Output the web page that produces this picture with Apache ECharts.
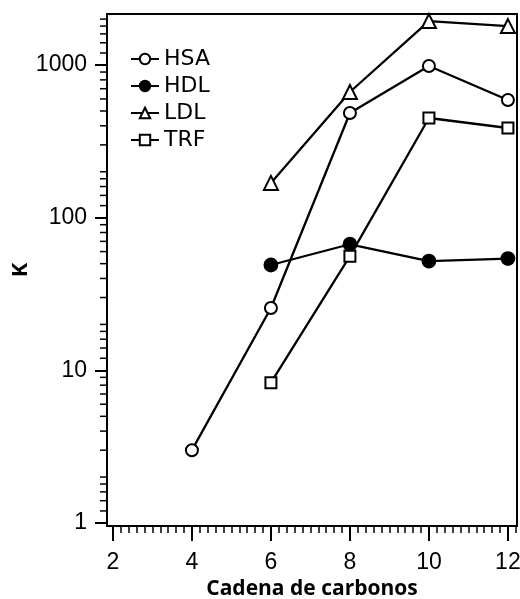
<!DOCTYPE html>
<html>
<head>
<meta charset="utf-8">
<script src="https://cdn.jsdelivr.net/npm/echarts@6/dist/echarts.min.js"></script>
<style>
html, body { margin: 0; padding: 0; background: #fff; }
#chart { width: 520px; height: 599px; }
</style>
</head>
<body>
<div id="chart"></div>
<script>
// datos
const carbonos = [4, 6, 8, 10, 12]
const hsa = [3.0, 25.6, 485, 985, 590]
const hdl = [null, 49, 67, 52, 54]
const ldl = [null, 169, 666, 1941, 1800]
const trf = [null, 8.3, 56, 450, 387]

const xTicks = [2, 4, 6, 8, 10, 12]
const yTicks = [1, 10, 100, 1000]
const decadas = [1, 10, 100, 1000]
const menores = [1.2, 1.4, 1.6, 1.8, 2, 3, 4, 5, 6, 7, 8, 9]

const xMin = 1.85
const xMax = 12.23
const yMin = 0.956
const yMax = 2160

// marcas menores del eje log
const minorY = []
decadas.forEach(d => menores.forEach(m => {
  const v = d * m
  if (v < yMax) minorY.push([xMin, v])
}))

const pairs = arr => carbonos.map((c, i) => [c, arr[i]]).filter(p => p[1] != null)

const chart = echarts.init(document.getElementById('chart'))

const serie = (name, data, symbol, size) => ({
  name: name,
  type: 'line',
  data: pairs(data),
  symbol: symbol,
  symbolSize: size,
  showAllSymbol: true,
  color: '#000',
  itemStyle: { color: '#000', borderColor: '#000', borderWidth: 1.8 },
  lineStyle: { color: '#000', width: 2.3 },
  z: 3,
})

chart.setOption({
  animation: false,
  grid: {
    left: 107, right: 3, top: 14, bottom: 73,
    outerBoundsMode: 'none',
    show: true, borderColor: '#000', borderWidth: 2,
  },
  legend: {
    data: ['HSA', 'HDL', 'LDL', 'TRF'],
    orient: 'vertical',
    left: 125, top: 43,
    itemWidth: 28, itemHeight: 13, itemGap: 5,
    textStyle: { fontFamily: 'DejaVu Sans', fontSize: 22, color: '#000' },
  },
  xAxis: {
    type: 'value',
    min: xMin, max: xMax,
    name: 'Cadena de carbonos',
    nameLocation: 'middle',
    nameGap: 47,
    nameTextStyle: { fontFamily: 'Open Sans', fontWeight: 'bold', fontSize: 21, color: '#000' },
    axisLine: { lineStyle: { color: '#000', width: 2 } },
    axisTick: { customValues: xTicks, length: 15, lineStyle: { color: '#000', width: 2 } },
    minorTick: { show: true, splitNumber: 10, length: 7, lineStyle: { color: '#000', width: 1.5 } },
    axisLabel: { customValues: xTicks, margin: 25, fontFamily: 'Liberation Sans', fontSize: 23, color: '#000' },
    splitLine: { show: false },
  },
  yAxis: {
    type: 'log',
    logBase: 10,
    min: yMin, max: yMax,
    name: 'K',
    nameLocation: 'middle',
    nameGap: 75,
    nameMoveOverlap: false,
    nameTextStyle: { fontFamily: 'Open Sans', fontWeight: 'bold', fontSize: 22, color: '#000' },
    axisLine: { lineStyle: { color: '#000', width: 2 } },
    axisTick: { customValues: yTicks, length: 12, lineStyle: { color: '#000', width: 2 } },
    axisLabel: {
      customValues: yTicks, margin: 20, fontFamily: 'Liberation Sans', fontSize: 23, color: '#000',
      formatter: v => String(Math.round(v)),
    },
    splitLine: { show: false },
  },
  series: [
    serie('HSA', hsa, 'emptyCircle', 12),
    serie('HDL', hdl, 'circle', 13),
    serie('LDL', ldl, 'emptyTriangle', 14),
    serie('TRF', trf, 'emptyRect', 11),
    {
      type: 'custom',
      name: 'minorY',
      data: minorY,
      clip: false,
      silent: true,
      renderItem: function (params, api) {
        const p = api.coord([api.value(0), api.value(1)])
        return {
          type: 'line',
          shape: { x1: p[0] - 7, y1: p[1], x2: p[0], y2: p[1] },
          style: { stroke: '#000', lineWidth: 1.5 },
        }
      },
    },
  ],
})
</script>
</body>
</html>
